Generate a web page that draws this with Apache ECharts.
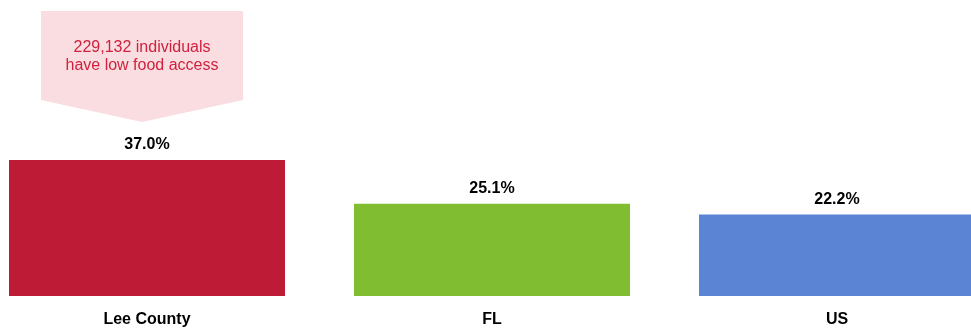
<!DOCTYPE html>
<html>
<head>
<meta charset="utf-8">
<style>
  html, body { margin: 0; padding: 0; background: #fff; }
  #chart { width: 971px; height: 330px; }
</style>
<script src="https://cdn.jsdelivr.net/npm/echarts@6/dist/echarts.min.js"></script>
</head>
<body>
<div id="chart"></div>
<script>
// Share of residents with low food access
const categories = ['Lee County', 'FL', 'US'];
const lowAccessPct = [37.0, 25.1, 22.2];
const barColors = ['#be1c36', '#80bd31', '#5b84d5'];
const calloutLines = ['229,132 individuals', 'have low food access'];

const FONT = '"Liberation Sans", Arial, Helvetica, sans-serif';

const chart = echarts.init(document.getElementById('chart'), null, { renderer: 'canvas' });

chart.setOption({
  animation: false,
  backgroundColor: '#ffffff',
  // category points sit on the ticks; the last bar runs off the right edge
  grid: { left: 147, right: 134, top: 2, bottom: 34, containLabel: false },
  xAxis: {
    type: 'category',
    data: categories,
    boundaryGap: false,
    axisLine: { show: false },
    axisTick: { show: false },
    axisLabel: {
      color: '#000',
      fontFamily: FONT,
      fontWeight: 'bold',
      fontSize: 16,
      margin: 16
    }
  },
  yAxis: {
    type: 'value',
    min: 0,
    max: 80,
    show: false,
    splitLine: { show: false }
  },
  series: [{
    type: 'bar',
    barWidth: '80%',
    clip: false,
    data: lowAccessPct.map((v, i) => ({ value: v, itemStyle: { color: barColors[i] } })),
    label: {
      show: true,
      position: 'top',
      distance: 7,
      color: '#000',
      fontFamily: FONT,
      fontWeight: 'bold',
      fontSize: 16,
      formatter: p => p.value.toFixed(1) + '%'
    }
  }],
  graphic: [{
    type: 'group',
    left: 41,
    top: 11,
    children: [{
      type: 'polygon',
      shape: { points: [[0, 0], [202, 0], [202, 89], [101, 111], [0, 89]] },
      style: { fill: '#f9dde0' }
    }, {
      type: 'text',
      x: 101,
      y: 46,
      style: {
        text: calloutLines.join('\n'),
        fill: '#d0213f',
        font: '16px ' + FONT,
        lineHeight: 18,
        align: 'center',
        verticalAlign: 'middle'
      }
    }]
  }]
});
</script>
</body>
</html>
